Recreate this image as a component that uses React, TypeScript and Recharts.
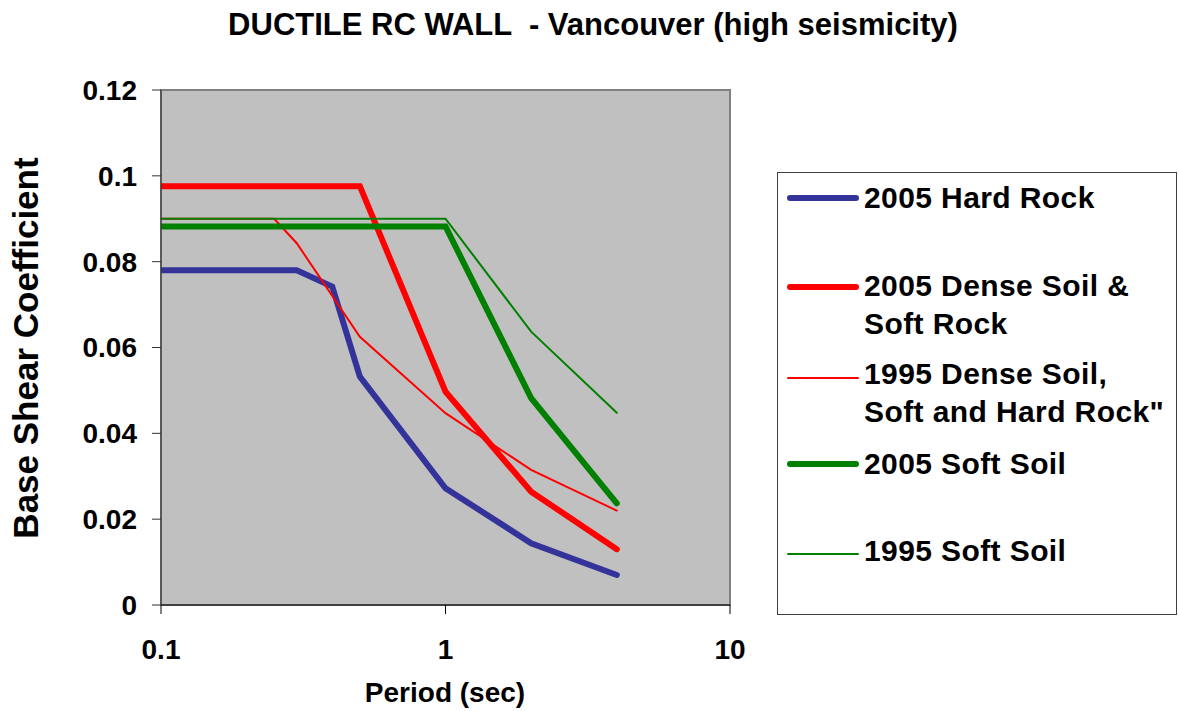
import React from 'react';
import { LineChart, Line, XAxis, YAxis, ReferenceArea } from 'recharts';

// periods (sec) and base shear coefficients
const hardRock2005Periods = [0.1, 0.15, 0.3, 0.4, 0.5, 1, 2, 4];
const hardRock2005Values = [0.078, 0.078, 0.078, 0.0742, 0.0532, 0.0272, 0.0144, 0.007];

const denseSoil2005Periods = [0.1, 0.15, 0.5, 1, 2, 4];
const denseSoil2005Values = [0.0976, 0.0976, 0.0976, 0.0497, 0.0264, 0.013];

const denseSoil1995Periods = [0.1, 0.25, 0.3, 0.5, 1, 2, 4];
const denseSoil1995Values = [0.09, 0.09, 0.0843, 0.0625, 0.0447, 0.0315, 0.022];

const softSoil2005Periods = [0.1, 0.15, 1, 2, 4];
const softSoil2005Values = [0.0882, 0.0882, 0.0882, 0.0482, 0.0237];

const softSoil1995Periods = [0.1, 1, 2, 4];
const softSoil1995Values = [0.09, 0.09, 0.0637, 0.0448];

const xTicks = [0.1, 1, 10];
const yTicks = [0, 0.02, 0.04, 0.06, 0.08, 0.1, 0.12];

const toPoints = (periods: number[], values: number[]) =>
  periods.map((p, i) => ({ period: p, value: values[i] }));

const series = [
  { name: '2005 Hard Rock', data: toPoints(hardRock2005Periods, hardRock2005Values), color: '#333399', width: 6 },
  { name: '2005 Dense Soil & Soft Rock', data: toPoints(denseSoil2005Periods, denseSoil2005Values), color: '#ff0000', width: 6 },
  { name: '1995 Dense Soil, Soft and Hard Rock"', data: toPoints(denseSoil1995Periods, denseSoil1995Values), color: '#ff0000', width: 2 },
  { name: '2005 Soft Soil', data: toPoints(softSoil2005Periods, softSoil2005Values), color: '#008000', width: 6 },
  { name: '1995 Soft Soil', data: toPoints(softSoil1995Periods, softSoil1995Values), color: '#008000', width: 2 },
];

// legend layout: marker y and text lines per entry
const legendRows = [
  { lines: ['2005 Hard Rock'], markerY: 25, textY: 25 },
  { lines: ['2005 Dense Soil &', 'Soft Rock'], markerY: 114, textY: 113 },
  { lines: ['1995 Dense Soil,', 'Soft and Hard Rock"'], markerY: 205, textY: 201 },
  { lines: ['2005 Soft Soil'], markerY: 291, textY: 291 },
  { lines: ['1995 Soft Soil'], markerY: 381, textY: 378 },
];

const FONT = '"Liberation Sans", Arial, sans-serif';

const fmt = (v: number) => (v === 0 ? '0' : String(v));

export default function App() {
  return (
    <div style={{ position: 'absolute', left: 0, top: 0, width: 1179, height: 711, background: '#fff', fontFamily: FONT }}>
      <div
        style={{
          position: 'absolute', left: 0, width: 1186, top: 7, textAlign: 'center',
          fontSize: 31, fontWeight: 'bold', color: '#000', whiteSpace: 'pre', lineHeight: '36px',
        }}
      >
        {'DUCTILE RC WALL  - Vancouver (high seismicity)'}
      </div>

      <LineChart width={1179} height={711} margin={{ top: 90, right: 449, bottom: 76, left: 0 }}>
        <ReferenceArea x1={0.1} x2={10} y1={0} y2={0.12} fill="#c0c0c0" fillOpacity={1} stroke="#808080" strokeWidth={2} ifOverflow="visible" />
        <XAxis
          dataKey="period"
          type="number"
          scale="log"
          domain={[0.1, 10]}
          ticks={xTicks}
          allowDataOverflow
          tickFormatter={fmt}
          tick={{ fill: '#000', fontSize: 28, fontWeight: 'bold', fontFamily: FONT }}
          tickSize={9}
          tickMargin={25}
          stroke="#000"
          label={{
            value: 'Period (sec)',
            content: () => (
              <text x={445} y={702} textAnchor="middle" fontSize={28} fontWeight="bold" fontFamily={FONT} fill="#000">
                Period (sec)
              </text>
            ),
          }}
        />
        <YAxis
          dataKey="value"
          type="number"
          domain={[0, 0.12]}
          ticks={yTicks}
          width={161}
          tickFormatter={fmt}
          tick={{ fill: '#000', fontSize: 28, fontWeight: 'bold', fontFamily: FONT }}
          tickSize={9}
          tickMargin={15}
          stroke="#333"
          label={{
            value: 'Base Shear Coefficient',
            content: () => (
              <text
                x={38}
                y={348}
                transform="rotate(-90 38 348)"
                textAnchor="middle"
                fontSize={35}
                fontWeight="bold"
                fontFamily={FONT}
                fill="#000"
              >
                Base Shear Coefficient
              </text>
            ),
          }}
        />
        {series.map(s => (
          <Line
            key={s.name}
            data={s.data}
            dataKey="value"
            name={s.name}
            type="linear"
            stroke={s.color}
            strokeWidth={s.width}
            strokeLinecap="round"
            dot={false}
            activeDot={false}
            isAnimationActive={false}
          />
        ))}
      </LineChart>

      <div
        style={{
          position: 'absolute', left: 777, top: 172, width: 400, height: 443,
          border: '1px solid #404040', boxSizing: 'border-box', background: '#fff',
        }}
      >
        {legendRows.map((row, i) => (
          <React.Fragment key={i}>
            <div
              style={{
                position: 'absolute', left: 9, width: 72,
                top: row.markerY - series[i].width / 2, height: series[i].width,
                background: series[i].color, borderRadius: series[i].width / 2,
              }}
            />
            {row.lines.map((line, j) => (
              <div
                key={j}
                style={{
                  position: 'absolute', left: 86, top: row.textY - 19 + j * 38,
                  fontSize: 30, fontWeight: 'bold', lineHeight: '38px', whiteSpace: 'pre', color: '#000',
                  letterSpacing: 0.4,
                }}
              >
                {line}
              </div>
            ))}
          </React.Fragment>
        ))}
      </div>
    </div>
  );
}
